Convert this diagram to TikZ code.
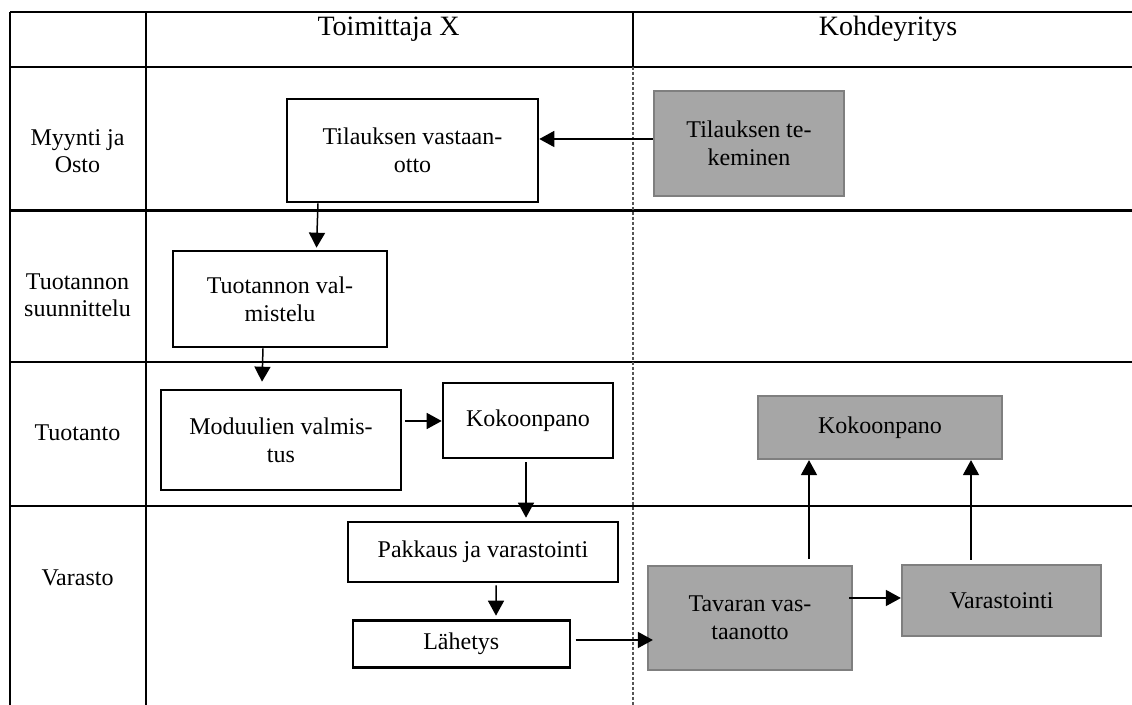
\documentclass[tikz,border=0pt]{standalone}
\usepackage{fontspec}
\setmainfont{Liberation Serif}
\usetikzlibrary{arrows.meta,calc}
\definecolor{boxfill}{HTML}{A6A6A6}
\definecolor{boxedge}{HTML}{7F7F7F}
\definecolor{dashcol}{HTML}{555555}
\begin{document}
\begin{tikzpicture}[x=0.5pt,y=-0.5pt,
  tline/.style={line width=1.3pt,black},
  wbox/.style={draw=black,line width=1.3pt,fill=white,inner sep=0pt,align=center,font=\fontsize{12}{13.8}\selectfont},
  gbox/.style={draw=boxedge,line width=1.1pt,fill=boxfill,inner sep=0pt,align=center,font=\fontsize{12}{13.8}\selectfont},
  lbl/.style={inner sep=0pt,align=center,font=\fontsize{12}{13.5}\selectfont},
  hdr/.style={inner sep=0pt,font=\fontsize{14}{16}\selectfont},
  arr/.style={line width=0.75pt,-{Triangle[length=7.5pt,width=8pt]}},
]
\useasboundingbox (0,0) rectangle (1132,705);

% table
\draw[tline] (10,12) -- (1132,12);
\draw[tline] (10,67) -- (1132,67);
\draw[tline] (10,210.5) -- (1132,210.5);
\draw[tline] (10,362) -- (1132,362);
\draw[tline] (10,506) -- (1132,506);
\draw[tline] (10,12) -- (10,705);
\draw[tline] (146,12) -- (146,705);
\draw[tline] (633,12) -- (633,67);
\draw[dashcol,line width=0.6pt,dash pattern=on 1.5pt off 1pt] (633,67) -- (633,705);

% headers
\node[hdr] (h1) at (388.5,29) {Toimittaja X};
\node[hdr] (h2) at (888,29) {Kohdeyritys};

% row labels
\node[lbl] (r1) at (77.5,151.5) {Myynti ja\\Osto};
\node[lbl] (r2) at (77.5,295.5) {Tuotannon\\suunnittelu};
\node[lbl] (r3) at (77.5,433) {Tuotanto};
\node[lbl] (r4) at (77.5,578) {Varasto};

% boxes
\node[wbox,minimum width=125.5pt,minimum height=51.5pt] (tilv) at (412.5,150.5) {Tilauksen vastaan-\\otto};
\node[gbox,minimum width=95pt,minimum height=52.5pt] (tilt) at (749,143.5) {Tilauksen te-\\keminen};
\node[wbox,minimum width=107pt,minimum height=48pt] (tuov) at (280,299) {Tuotannon val-\\mistelu};
\node[wbox,minimum width=120pt,minimum height=50pt] (modu) at (281,440) {Moduulien valmis-\\tus};
\node[wbox,minimum width=85pt,minimum height=37.5pt] (kok1) at (528,420.5) {Kokoonpano};
\node[wbox,minimum width=135pt,minimum height=30pt] (pak) at (483,552) {Pakkaus ja varastointi};
\node[wbox,minimum width=108.5pt,minimum height=23.3pt] (lah) at (461.3,644) {Lähetys};
\node[gbox,minimum width=102pt,minimum height=52pt] (tav) at (750,618) {Tavaran vas-\\taanotto};
\node[gbox,minimum width=99.5pt,minimum height=35.5pt] (var) at (1001.5,600.5) {Varastointi};
\node[gbox,minimum width=122pt,minimum height=31.5pt] (kok2) at (880,427.5) {Kokoonpano};

% arrows
\draw[arr] ($(tilt.west)+(0,-4.5)$) -- ($(tilv.east)+(0,-11.5)$);
\draw[arr] ($(tilv.south)+(-94.5,0)$) -- ($(tuov.north)+(36.5,-2)$);
\draw[arr] ($(tuov.south)+(-17,0)$) -- ($(modu.north)+(-19,-7)$);
\draw[arr] ($(modu.east)+(3,-19)$) -- ($(kok1.west)+(0,0.5)$);
\draw[arr] ($(kok1.south)+(-2,3)$) -- ($(pak.north)+(43,-3)$);
\draw[arr] ($(pak.south)+(13,2)$) -- ($(lah.north)+(34.7,-3.7)$);
\draw[arr] ($(lah.east)+(4.5,-4)$) -- ($(tav.west)+(6,22)$);
\draw[arr] ($(tav.east)+(-4,-20)$) -- ($(var.west)+(0,-2.5)$);
\draw[arr] ($(tav.north)+(59,-6)$) -- ($(kok2.south)+(-71,0)$);
\draw[arr] ($(var.north)+(-30.5,-4)$) -- ($(kok2.south)+(91,0)$);
\end{tikzpicture}
\end{document}
